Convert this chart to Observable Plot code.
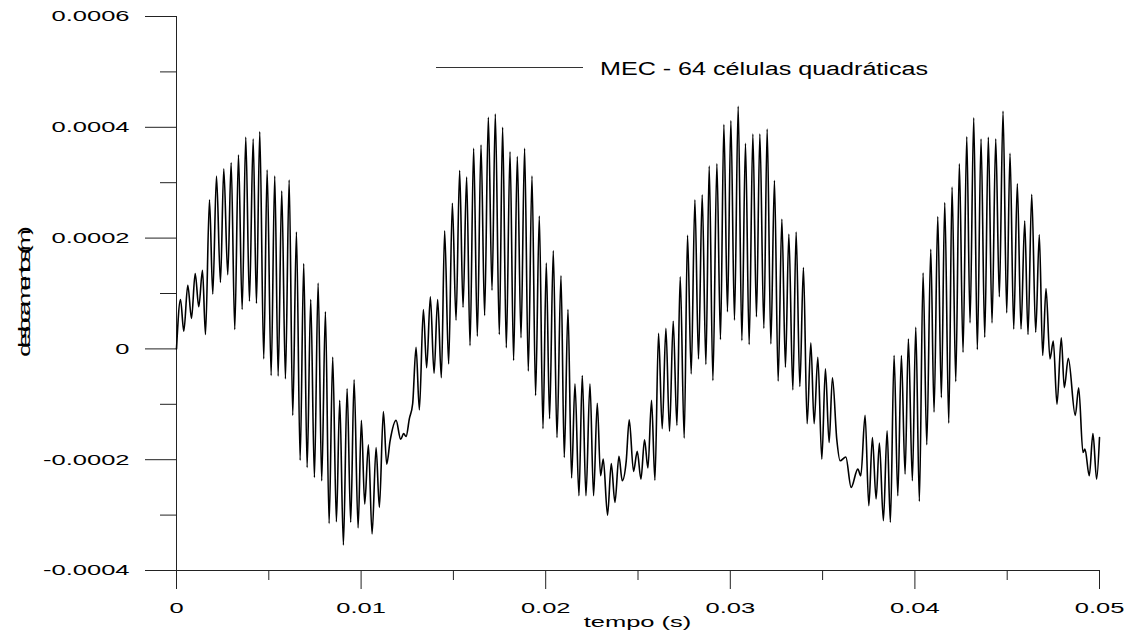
<!DOCTYPE html>
<html><head><meta charset="utf-8">
<script src="https://cdn.jsdelivr.net/npm/d3@7"></script>
<script src="https://cdn.jsdelivr.net/npm/@observablehq/plot@0.6"></script>
<style>body{margin:0;background:#fff}</style>
</head><body><div id="chart"></div>
<script>
// time in milliseconds, displacement in micrometres (peaks / valleys)
const tempo_ms = [0,0.217,0.395,0.612,0.812,1.012,1.207,1.408,1.570,1.787,1.965,2.166,2.382,2.561,2.777,2.961,3.156,3.357,3.557,3.752,3.952,4.153,4.331,4.510,4.726,4.910,5.127,5.322,5.506,5.701,5.901,6.102,6.297,6.497,6.697,6.892,7.076,7.271,7.471,7.672,7.866,8.067,8.267,8.462,8.662,8.841,9.041,9.242,9.437,9.621,9.837,
10.016,10.195,10.395,10.595,10.812,10.990,11.207,11.386,11.570,11.895,12.144,12.306,12.436,12.615,12.793,12.977,13.156,13.373,13.551,13.752,13.952,14.147,14.347,14.526,14.742,14.943,15.143,15.338,15.522,15.717,15.901,16.096,16.296,16.496,16.691,16.892,17.092,17.271,17.487,17.666,17.866,18.067,18.261,18.462,18.662,18.857,19.057,19.257,19.452,19.653,
19.853,20.032,20.210,20.411,20.611,20.828,21.006,21.207,21.402,21.586,21.802,21.981,22.181,22.398,22.593,22.793,22.972,23.118,23.351,23.551,23.751,23.968,24.146,24.363,24.525,24.758,24.959,25.159,25.354,25.538,25.733,25.917,26.112,26.312,26.512,26.707,26.908,27.108,27.287,27.503,27.682,27.882,28.082,28.277,28.478,28.678,28.857,29.057,29.273,29.468,29.652,
29.847,30.031,30.226,30.427,30.627,30.822,31.022,31.222,31.417,31.601,31.818,31.997,32.197,32.392,32.592,32.793,32.987,33.171,33.388,33.567,33.767,33.962,34.162,34.363,34.541,34.742,34.958,35.153,35.353,35.532,35.770,35.949,36.258,36.545,36.907,37.070,37.302,37.503,37.698,37.898,38.077,38.293,38.494,38.672,38.873,39.073,39.268,39.468,39.647,39.863,
40.047,40.242,40.443,40.643,40.859,41.038,41.238,41.433,41.617,41.834,42.013,42.213,42.408,42.608,42.809,42.987,43.187,43.382,43.583,43.783,43.978,44.178,44.379,44.574,44.774,44.974,45.153,45.353,45.548,45.748,45.949,46.127,46.328,46.544,46.739,46.923,47.102,47.318,47.497,47.697,47.930,48.093,48.309,48.688,48.872,49.104,49.213,49.446,49.645,49.845,50.0];
const desloc_um = [0,89,32,115,55,136,76,142,26,269,99,312,120,325,134,336,35,350,71,382,86,379,82,392,-18,323,-48,312,-49,285,-54,305,-120,211,-201,154,-214,89,-232,119,-238,67,-315,-15,-312,-93,-354,-72,-313,-56,-323,
-129,-280,-173,-334,-178,-286,-113,-208,-166,-129,-163,-153,-158,-126,-99,3,-110,71,-34,94,-44,89,-52,213,-27,263,52,322,75,310,6,362,23,368,60,418,106,424,26,400,2,356,-21,347,20,362,-40,312,-84,240,
-144,155,-126,177,-160,132,-196,71,-233,-63,-265,-48,-265,-63,-265,-98,-229,-199,-300,-207,-277,-194,-238,-202,-128,-221,-185,-235,-164,-215,-93,-237,28,-144,37,-149,50,-138,130,-161,205,-45,269,-18,278,-28,330,-57,334,17,405,
67,412,52,438,15,371,8,388,58,388,37,397,9,304,-58,234,-33,207,-74,211,-68,147,-135,11,-135,-15,-199,-36,-169,-52,-164,-202,-195,-250,-217,-229,-120,-283,-160,-271,-170,-310,-148,-313,-12,-265,-12,-226,18,-238,
39,-275,137,-173,180,-114,239,-88,264,-134,292,-59,334,-6,383,47,417,-1,379,21,382,47,379,94,429,65,353,36,298,36,231,26,279,30,206,-12,109,-18,14,-100,20,-70,-17,-120,-70,-187,-181,-229,-153,-235,-160];

const xTicks = [0, 0.01, 0.02, 0.03, 0.04, 0.05];
const xTickLabels = ["0", "0.01", "0.02", "0.03", "0.04", "0.05"];
const xMinorTicks = [0.005, 0.015, 0.025, 0.035, 0.045];
const yTicks = [-0.0004, -0.0002, 0, 0.0002, 0.0004, 0.0006];
const yTickLabels = ["-0.0004", "-0.0002", "0", "0.0002", "0.0004", "0.0006"];
const yMinorTicks = [-0.0003, -0.0001, 0.0001, 0.0003, 0.0005];
const seriesName = "MEC - 64 células quadráticas";
const xLabel = "tempo (s)";
const yLabel = "deslocamentos (m)";

const data = tempo_ms.map((t, i) => ({t: t / 1000, d: desloc_um[i] / 1e6}));
const lookup = (ticks, labels) => v => labels[ticks.findIndex(u => Math.abs(u - v) < 1e-12)];

const plot = Plot.plot({
  width: 1130, height: 634,
  marginLeft: 176, marginRight: 31, marginTop: 16, marginBottom: 64,
  style: {fontFamily: "'Liberation Sans', Arial, sans-serif", fontSize: "15px", background: "#fff", color: "#000"},
  x: {domain: [0, 0.05], label: null},
  y: {domain: [-0.0004, 0.0006], label: null},
  marks: [
    Plot.axisY({ticks: yMinorTicks, tickSize: 16, tickFormat: () => "", label: null, stroke: "#222"}),
    Plot.axisY({ticks: yTicks, tickSize: 31, tickPadding: 16, tickFormat: lookup(yTicks, yTickLabels), label: null, stroke: "#222", fill: "#000"}),
    Plot.axisX({ticks: xMinorTicks, tickSize: 10, tickFormat: () => "", label: null, stroke: "#222"}),
    Plot.axisX({ticks: xTicks, tickSize: 19, tickPadding: 13, tickFormat: lookup(xTicks, xTickLabels), label: null, stroke: "#222", fill: "#000"}),
    Plot.ruleX([0], {stroke: "#222"}),
    Plot.ruleY([-0.0004], {stroke: "#222"}),
    Plot.line(data, {x: "t", y: "d", stroke: "#000", strokeWidth: 1.6, curve: "monotone-x"})
  ]
});
document.getElementById("chart").appendChild(plot);
const svg = d3.select(plot);
const stretch = 1.7;
svg.selectAll('g[aria-label$="tick label"] text').each(function () {
  const w = this.getComputedTextLength();
  if (w > 0) { this.setAttribute("textLength", w * stretch); this.setAttribute("lengthAdjust", "spacingAndGlyphs"); }
});
// legend
const lg = svg.append("g");
lg.append("line").attr("x1", 436).attr("x2", 583).attr("y1", 67.5).attr("y2", 67.5).attr("stroke", "#333").attr("stroke-width", 1);
lg.append("text").attr("x", 600).attr("y", 75).attr("font-size", 18).attr("fill", "#000").attr("text-anchor", "start")
  .attr("textLength", 328).attr("lengthAdjust", "spacingAndGlyphs").text(seriesName);
// x label
const xl = svg.append("text").attr("x", 637.5).attr("y", 627).attr("text-anchor", "middle").attr("font-size", 15).attr("fill", "#000").text(xLabel);
xl.attr("textLength", xl.node().getComputedTextLength() * stretch).attr("lengthAdjust", "spacingAndGlyphs");
// y label (wide glyphs, tight spacing)
svg.append("text").attr("transform", "translate(30,291.5) rotate(-90) scale(1.7,1)")
  .attr("text-anchor", "middle").attr("font-size", 16).attr("fill", "#000")
  .attr("textLength", 131 / 1.7).attr("lengthAdjust", "spacing").text(yLabel);
</script>
</body></html>
